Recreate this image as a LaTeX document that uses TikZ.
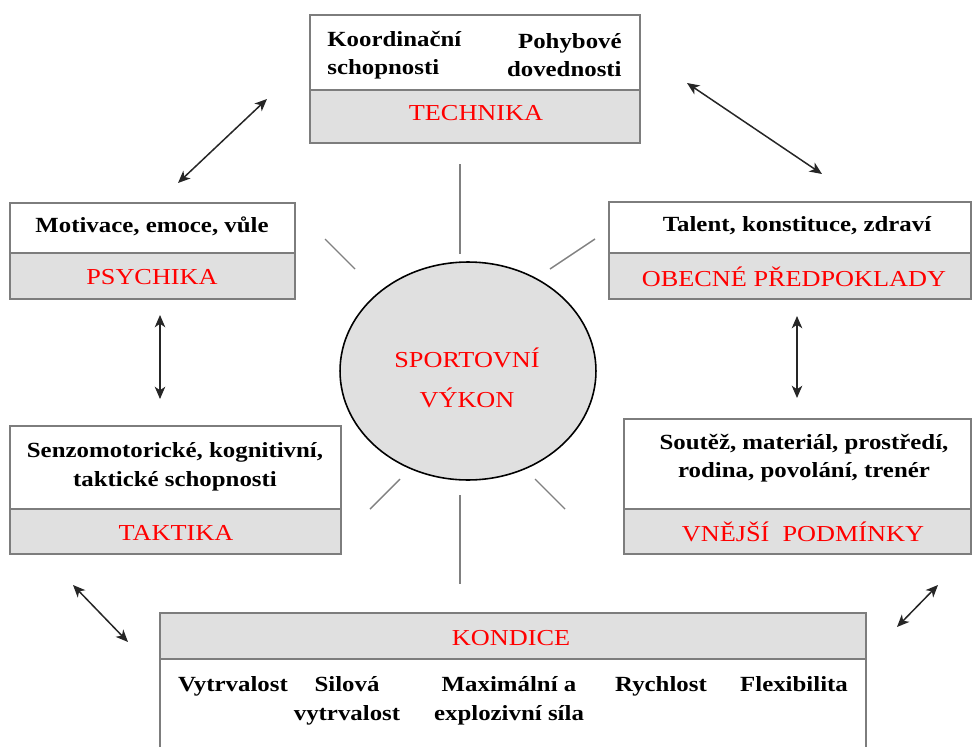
\documentclass[tikz,border=0pt]{standalone}
\usepackage{fontspec}
\setmainfont{Liberation Serif}[FakeStretch=1.15]
\usetikzlibrary{arrows.meta, shapes.geometric, positioning}
\definecolor{boxgray}{RGB}{224,224,224}
\definecolor{framegray}{RGB}{125,125,125}

\begin{document}
\begin{tikzpicture}[x=0.02cm,y=-0.02cm,
		frame/.style={draw=framegray,line width=0.9pt,fill=white},
		head/.style={frame,fill=boxgray},
		desc/.style={font=\fontsize{12.3}{16.3}\selectfont\bfseries,align=center,inner sep=0pt},
		title/.style={font=\fontsize{13}{15}\selectfont,text=red,inner sep=0pt},
		core/.style={ellipse,draw=black,line width=0.9pt,fill=boxgray,minimum width=5.12cm,minimum height=4.36cm},
		ray/.style={draw=gray,line width=0.8pt},
		link/.style={{Stealth[length=7pt,width=6pt,inset=2pt]}-{Stealth[length=7pt,width=6pt,inset=2pt]},line width=0.85pt,black!85}]
	\useasboundingbox (0,0) rectangle (974,747);

	% boxes
	\draw[frame] (310,15) rectangle (640,90);
	\draw[head] (310,90) rectangle (640,143);
	\draw[frame] (10,203) rectangle (295,253);
	\draw[head] (10,253) rectangle (295,299);
	\draw[frame] (609,202) rectangle (971,253);
	\draw[head] (609,253) rectangle (971,299);
	\draw[frame] (10,426) rectangle (341,509);
	\draw[head] (10,509) rectangle (341,554);
	\draw[frame] (624,419) rectangle (971,509);
	\draw[head] (624,509) rectangle (971,554);
	\draw[head] (160,613) rectangle (866,659);
	\draw[frame] (160,747) -- (160,659) -- (866,659) -- (866,747);

	% centre
	\node[core] (vykon) at (468,371) {};
	\node[title,align=center,font=\fontsize{13}{22.7}\selectfont] (vykontext) at (467,378) {SPORTOVNÍ\\VÝKON};
	\foreach \xa/\ya/\xb/\yb in {460/164/460/254, 325/239/355/269, 550/269/595/239,
		370/509/400/479, 535/479/565/509, 460/495/460/584}
		\draw[ray] (\xa,\ya) -- (\xb,\yb);

	% texts
	\node[desc,align=left,anchor=west] (koord) at (327,55) {Koordinační\\schopnosti};
	\node[desc,align=right,anchor=east] (pohyb) at (622,55) {Pohybové\\dovednosti};
	\node[title] (technika) at (476,113) {TECHNIKA};
	\node[desc] (motiv) at (152,226) {Motivace, emoce, vůle};
	\node[title] (psychika) at (152,277) {PSYCHIKA};
	\node[desc] (talent) at (797,226) {Talent, konstituce, zdraví};
	\node[title] (obecne) at (794,277) {OBECNÉ PŘEDPOKLADY};
	\node[desc] (senzo) at (175,467) {Senzomotorické, kognitivní,\\taktické schopnosti};
	\node[title] (taktika) at (176,533) {TAKTIKA};
	\node[desc] (soutez) at (804,458) {Soutěž, materiál, prostředí,\\rodina, povolání, trenér};
	\node[title] (vnejsi) at (803,532) {VNĚJŠÍ\ \ PODMÍNKY};
	\node[title] (kondice) at (511,638) {KONDICE};
	\foreach \x/\t [count=\i] in {233/Vytrvalost, 347/{Silová\\vytrvalost}, 509/{Maximální a\\explozivní síla},
		661/Rychlost, 794/Flexibilita}
		\node[desc,anchor=north] (item\i) at (\x,676) {\t};

	% arrows
	\foreach \xa/\ya/\xb/\yb in {178/183/267/99, 687/83/822/174, 160/315/160/399,
		797/316/797/398, 73/585/128/642, 897/627/938/585}
		\draw[link] (\xa,\ya) -- (\xb,\yb);
\end{tikzpicture}
\end{document}
